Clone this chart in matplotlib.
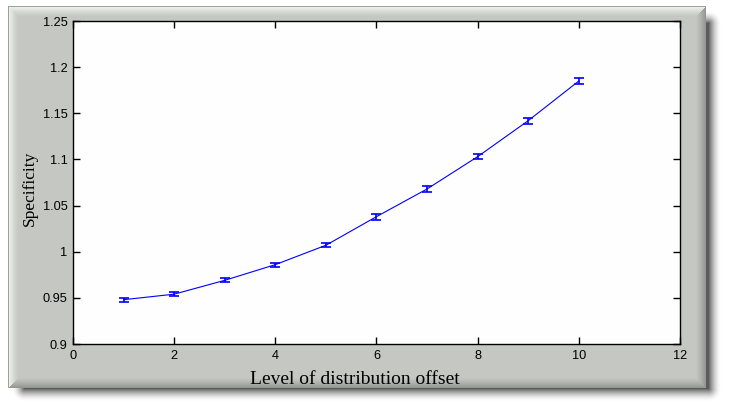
import numpy as np
import matplotlib
matplotlib.use("Agg")
import matplotlib.pyplot as plt

# ---- data ----
levels = [1, 2, 3, 4, 5, 6, 7, 8, 9, 10]
specificity = [0.948, 0.954, 0.969, 0.986, 1.007, 1.038, 1.068, 1.103, 1.142, 1.185]
errors = [0.0022, 0.0025, 0.0022, 0.0022, 0.0022, 0.0033, 0.0029, 0.0025, 0.0033, 0.0029]
xticks = [0, 2, 4, 6, 8, 10, 12]
yticks = [0.9, 0.95, 1.0, 1.05, 1.1, 1.15, 1.2, 1.25]
yticklabels = ["0.9", "0.95", "1", "1.05", "1.1", "1.15", "1.2", "1.25"]

W, H = 729, 411
fig = plt.figure(figsize=(W / 100, H / 100), dpi=100)

# ---- background frame (panel with bevel + drop shadow) ----
yy, xx = np.mgrid[0:H, 0:W].astype(float)
img = np.ones((H, W, 3))

# shadow (soft)
sx0, sx1, sy0, sy1 = 24, 708, 24, 388
dx = np.maximum(np.maximum(sx0 - xx, xx - sx1), 0)
dy = np.maximum(np.maximum(sy0 - yy, yy - sy1), 0)
d = np.sqrt(dx ** 2 + dy ** 2)
a = np.clip(1 - d / 13.0, 0, 1) ** 1.8 * 0.8
for c in range(3):
    img[..., c] = img[..., c] * (1 - a) + 0.2 * a

# panel
px0, px1, py0, py1 = 8, 705, 7, 387
base = np.array([0.773, 0.784, 0.765])
inside = (xx >= px0) & (xx <= px1) & (yy >= py0) & (yy <= py1)
dl = xx - px0
dt = yy - py0
dr = px1 - xx
db = py1 - yy
bw = 10.0
panel = np.zeros((H, W, 3)) + base
m = np.minimum(np.minimum(dl, dt), np.minimum(dr, db))
t = np.clip(1 - m / bw, 0, 1)
light = (np.minimum(dl, dt) <= np.minimum(dr, db))
hi = np.array([0.95, 0.96, 0.94])
lo = np.array([0.58, 0.59, 0.57])
for c in range(3):
    lv = base[c] + (hi[c] - base[c]) * t ** 1.3
    dv = base[c] + (lo[c] - base[c]) * t ** 1.3
    panel[..., c] = np.where(light, lv, dv)
edge = inside & ((dl < 1) | (dt < 1))
panel[edge] = [0.62, 0.63, 0.61]
img[inside] = panel[inside]

bg = fig.add_axes([0, 0, 1, 1])
bg.imshow(img, extent=(0, W, H, 0), aspect="auto", interpolation="nearest")
bg.set_axis_off()
bg.set_zorder(-1)

# ---- main axes ----
ax = fig.add_axes([73 / W, 1 - 344 / H, (680 - 73) / W, (344 - 21) / H])
ax.set_facecolor("#fefefe")
ax.errorbar(levels, specificity, yerr=errors, color="#0000ff", lw=0.8,
            elinewidth=1.2, capsize=3.6, capthick=1.2)

ax.set_xlim(0, 12)
ax.set_ylim(0.9, 1.25)
ax.set_xticks(xticks)
ax.set_xticklabels([str(v) for v in xticks])
ax.set_yticks(yticks)
ax.set_yticklabels(yticklabels)
ax.tick_params(direction="in", top=True, right=True, length=5, width=1,
               labelsize=9.2, pad=4, colors="black")
for lab in ax.get_xticklabels() + ax.get_yticklabels():
    lab.set_family(["Liberation Sans", "DejaVu Sans"])
for s in ax.spines.values():
    s.set_linewidth(1.0)

ax.set_xlabel("Level of distribution offset", family=["Liberation Serif", "DejaVu Serif"],
              fontsize=14)
ax.xaxis.set_label_coords((355 - 73) / 607, (344 - 371) / 323)
ax.set_ylabel("Specificity", family=["Liberation Serif", "DejaVu Serif"], fontsize=12.5)
ax.yaxis.set_label_coords((38 - 73) / 607, (344 - 188) / 323)

fig.savefig("out.png", dpi=100)
